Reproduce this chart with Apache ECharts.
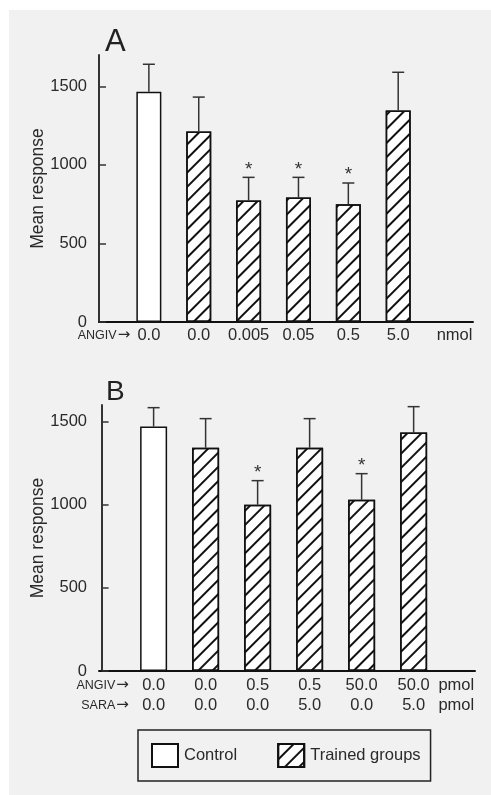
<!DOCTYPE html>
<html>
<head>
<meta charset="utf-8">
<script src="https://cdn.jsdelivr.net/npm/echarts@6/dist/echarts.min.js"></script>
<style>
  html, body { margin: 0; padding: 0; background: #fff; }
  #chart { position: absolute; left: 9px; top: 10px; width: 482px; height: 785px; background: #f1f1f1; }
</style>
</head>
<body>
<div id="chart"></div>
<script>
// panel A: ANGIV dose, nmol
var posA = [1, 2, 3, 4, 5, 6];
var labelsA = ['0.0', '0.0', '0.005', '0.05', '0.5', '5.0'];
var meanA = [1466, 1213, 773, 792, 750, 1347];
var upperA = [1641, 1432, 921, 921, 885, 1590];
var starA = [0, 0, 1, 1, 1, 0];

// panel B: ANGIV / SARA, pmol
var posB = [1, 2, 3, 4, 5, 6];
var angivB = ['0.0', '0.0', '0.5', '0.5', '50.0', '50.0'];
var saraB = ['0.0', '0.0', '0.0', '5.0', '0.0', '5.0'];
var meanB = [1470, 1343, 1000, 1343, 1030, 1434];
var upperB = [1584, 1518, 1145, 1518, 1187, 1590];
var starB = [0, 0, 1, 0, 1, 0];

var yTicksA = [0, 500, 1000, 1500];
var yTicksB = [0, 500, 1000, 1500];

var FONT = 'Liberation Sans';
var TXT = '#2a2a2a';
var hatch = {
    symbol: 'rect',
    symbolSize: 1,
    dashArrayX: [1, 0],
    dashArrayY: [2, 8],
    rotation: -Math.PI / 4,
    color: '#111'
};

function controlData(pos, mean) {
    return [[pos[0], mean[0]]];
}
function trainedData(pos, mean) {
    var out = [];
    for (var i = 1; i < pos.length; i++) out.push([pos[i], mean[i]]);
    return out;
}
function errData(pos, mean, upper, star) {
    return pos.map(function (p, i) { return [p, mean[i], upper[i], star[i]]; });
}

function renderError(params, api) {
    var x = api.value(0);
    var lo = api.coord([x, api.value(1)]);
    var hi = api.coord([x, api.value(2)]);
    var st = { stroke: '#333', lineWidth: 1.5 };
    var kids = [
        { type: 'line', shape: { x1: lo[0], y1: lo[1], x2: hi[0], y2: hi[1] }, style: st },
        { type: 'line', shape: { x1: hi[0] - 6, y1: hi[1], x2: hi[0] + 6, y2: hi[1] }, style: st }
    ];
    if (api.value(3)) {
        kids.push({
            type: 'text', x: hi[0], y: hi[1] - 8,
            style: { text: '*', fill: '#333', fontSize: 19, fontFamily: FONT, align: 'center', verticalAlign: 'middle' }
        });
    }
    return { type: 'group', children: kids };
}

function key(v) { return Number(v).toFixed(2); }

// x labels panel A
var xValsA = [0.1].concat(posA, [7.13]);
var xMapA = {};
xMapA[key(0.1)] = '{s|ANGIV}{a|→}';
posA.forEach(function (p, i) { xMapA[key(p)] = '{b|' + labelsA[i] + '}'; });
xMapA[key(7.13)] = '{b|nmol}';

// x labels panel B
var xValsB = [0.02].concat(posB, [6.82]);
var xMapB = {};
xMapB[key(0.02)] = '{s|ANGIV}{a|→}\n{s|SARA}{a|→}';
posB.forEach(function (p, i) { xMapB[key(p)] = '{b|' + angivB[i] + '}\n{b|' + saraB[i] + '}'; });
xMapB[key(6.82)] = '{b|pmol}\n{b|pmol}';

var rich = {
    b: { fontSize: 16.5, fontFamily: FONT, color: TXT, lineHeight: 20 },
    s: { fontSize: 12.5, fontFamily: FONT, color: TXT, lineHeight: 20, align: 'right', padding: [2, 0, 0, 0] },
    a: { fontSize: 15, fontFamily: 'DejaVu Sans', color: TXT, lineHeight: 20, align: 'right', padding: [1, 0, 0, 1] }
};

function xAxis(gi, min, max, vals, map, margin) {
    return {
        gridIndex: gi, type: 'value', min: min, max: max,
        axisLine: { show: true, lineStyle: { color: '#111', width: 2 } },
        axisTick: { show: false },
        splitLine: { show: false },
        axisLabel: {
            customValues: vals, margin: margin, rich: rich,
            formatter: function (v) { return map[key(v)] || ''; }
        }
    };
}
function yAxis(gi, max, ticks) {
    return {
        gridIndex: gi, type: 'value', min: 0, max: max,
        name: 'Mean response', nameLocation: 'middle', nameGap: 52, nameMoveOverlap: false,
        nameTextStyle: { fontSize: 17.5, fontFamily: FONT, color: TXT },
        axisLine: { show: true, lineStyle: { color: '#333', width: 2 } },
        axisTick: { show: true, inside: true, length: 7, customValues: ticks, lineStyle: { color: '#333', width: 1.5 } },
        splitLine: { show: false },
        axisLabel: {
            customValues: ticks, margin: 12, fontSize: 16.5, fontFamily: FONT, color: TXT,
            formatter: function (v) { return String(v); }
        }
    };
}

var barStyle = { color: '#fff', borderColor: '#111', borderWidth: 1.5 };

var chart = echarts.init(document.getElementById('chart'));
chart.setOption({
    animation: false,
    title: [
        { text: 'A', left: 96, top: 17, padding: 0, textStyle: { fontSize: 31, fontWeight: 'normal', fontFamily: FONT, color: '#222', lineHeight: 31 } },
        { text: 'B', left: 97, top: 368, padding: 0, textStyle: { fontSize: 28, fontWeight: 'normal', fontFamily: FONT, color: '#222', lineHeight: 28 } }
    ],
    legend: {
        data: ['Control', 'Trained groups'],
        left: 129, top: 720,
        padding: [13, 10, 13, 13],
        itemWidth: 26, itemHeight: 23, itemGap: 40,
        icon: 'rect',
        borderColor: '#222', borderWidth: 1.5,
        textStyle: { fontSize: 16.5, fontFamily: FONT, color: TXT, padding: [0, 0, 0, 1] }
    },
    grid: [
        { left: 90, top: 45, width: 374, height: 267 },
        { left: 90, top: 395, width: 376, height: 266 }
    ],
    xAxis: [xAxis(0, 0, 7.5, xValsA, xMapA, 3), xAxis(1, -0.05, 7.18, xValsB, xMapB, 4)],
    yAxis: [yAxis(0, 1700, yTicksA), yAxis(1, 1600, yTicksB)],
    series: [
        { name: 'Control', type: 'bar', xAxisIndex: 0, yAxisIndex: 0, barWidth: 25, barGap: '-100%', itemStyle: barStyle, data: controlData(posA, meanA) },
        { name: 'Trained groups', type: 'bar', xAxisIndex: 0, yAxisIndex: 0, barWidth: 25, barGap: '-100%', itemStyle: Object.assign({ decal: hatch }, barStyle), data: trainedData(posA, meanA) },
        { name: 'Control', type: 'bar', xAxisIndex: 1, yAxisIndex: 1, barWidth: 27, barGap: '-100%', itemStyle: barStyle, data: controlData(posB, meanB) },
        { name: 'Trained groups', type: 'bar', xAxisIndex: 1, yAxisIndex: 1, barWidth: 27, barGap: '-100%', itemStyle: Object.assign({ decal: hatch }, barStyle), data: trainedData(posB, meanB) },
        { type: 'custom', xAxisIndex: 0, yAxisIndex: 0, z: 5, renderItem: renderError, encode: { x: 0, y: [1, 2] }, data: errData(posA, meanA, upperA, starA) },
        { type: 'custom', xAxisIndex: 1, yAxisIndex: 1, z: 5, renderItem: renderError, encode: { x: 0, y: [1, 2] }, data: errData(posB, meanB, upperB, starB) }
    ]
});
</script>
</body>
</html>
